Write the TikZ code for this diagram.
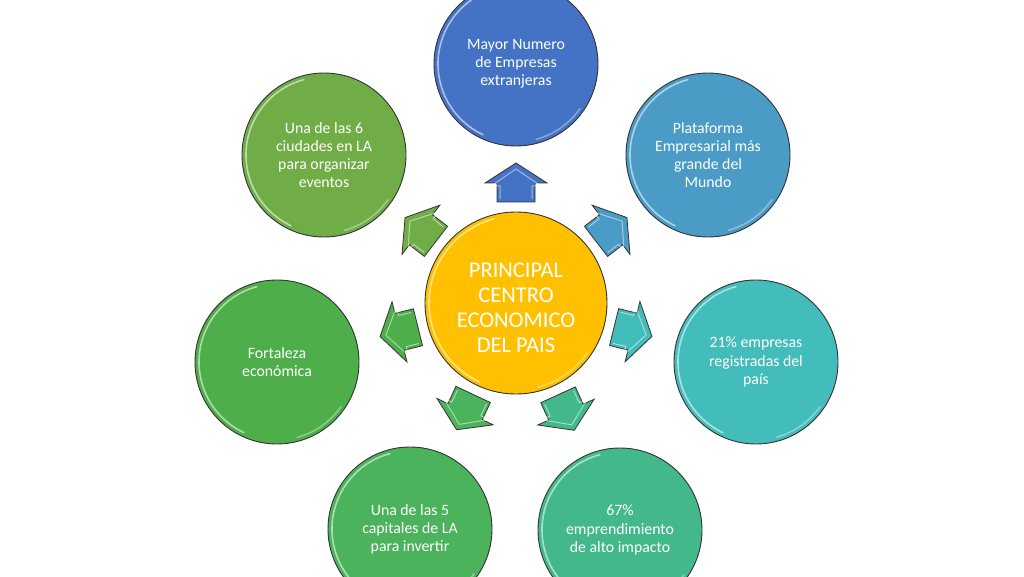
\documentclass[tikz,border=0pt]{standalone}
\usepackage{fontspec}
\setmainfont{Carlito}
\definecolor{cTop}{HTML}{4472C4}
\definecolor{cTR}{HTML}{4A9BC6}
\definecolor{cR}{HTML}{43BDBB}
\definecolor{cBR}{HTML}{43B98B}
\definecolor{cBL}{HTML}{4AB35C}
\definecolor{cL}{HTML}{4DAE4A}
\definecolor{cTL}{HTML}{70AD47}
\definecolor{cC}{HTML}{FFC000}
\definecolor{rim}{HTML}{333333}
\tikzset{
  outer/.style={circle, draw=rim, line width=0.9pt, minimum size=164pt, inner sep=0pt,
     text=white, align=center, font=\fontsize{15.8}{18.2}\selectfont},
  centre/.style={circle, draw=rim, line width=0.9pt, minimum size=182pt, inner sep=0pt,
     fill=cC, text=white, align=center, font=\fontsize{22.5}{25}\selectfont},
  shine/.style={white, opacity=0.55, line width=1.6pt, line cap=round},
  blockarrow/.style={draw=rim, line width=0.8pt, line join=miter},
}
\newcommand{\ringshine}[2]{%
  \draw[shine] ($(#1)+(105:#2)$) arc[start angle=105, end angle=245, radius=#2];
  \draw[shine, opacity=0.35] ($(#1)+(285:#2)$) arc[start angle=285, end angle=325, radius=#2];
}
\newcommand{\radarrow}[2]{%
  \begin{scope}[shift={(c.center)}, rotate=#1]
    \draw[blockarrow, fill=#2] (101,-19) -- (120,-19) -- (120,-31) -- (140,0) -- (120,31) -- (120,19) -- (101,19) -- cycle;
    \draw[white, opacity=0.5, line width=1pt, line join=round] (104,-16) -- (117,-16) -- (117,-25) -- (134,0) -- (117,25) -- (117,16) -- (104,16);
  \end{scope}
}
\usetikzlibrary{calc}
\begin{document}
\begin{tikzpicture}[x=1pt,y=1pt]
\useasboundingbox (0,0) rectangle (1024,576);
\fill[white] (0,0) rectangle (1024,576);

\node[centre] (c) at (516,273) {};
\node[text=white, align=center, font=\fontsize{22.5}{25}\selectfont] (ct) at (516,268) {PRINCIPAL\\CENTRO\\ECONOMICO\\DEL PAIS};
\ringshine{c}{87}

\node[outer, fill=cTop] (o1) at (516,512) {Mayor Numero\\de Empresas\\extranjeras};
\node[outer, fill=cTR]  (o2) at (708,421) {Plataforma\\Empresarial más\\grande del\\Mundo};
\node[outer, fill=cR]   (o3) at (756,214) {21\% empresas\\registradas del\\país};
\node[outer, fill=cBR]  (o4) at (620,46)  {67\%\\emprendimiento\\de alto impacto};
\node[outer, fill=cBL]  (o5) at (410,47)  {Una de las 5\\capitales de LA\\para invertir};
\node[outer, fill=cL]   (o6) at (277,214) {Fortaleza\\económica};
\node[outer, fill=cTL]  (o7) at (324,421) {Una de las 6\\ciudades en LA\\para organizar\\eventos};
\foreach \n in {o1,o2,o3,o4,o5,o6,o7} {\ringshine{\n}{78}}

\radarrow{90}{cTop}
\radarrow{37.6}{cTR}
\radarrow{-13.8}{cR}
\radarrow{-65.4}{cBR}
\radarrow{-115.1}{cBL}
\radarrow{-166.1}{cL}
\radarrow{142.4}{cTL}
\end{tikzpicture}
\end{document}
